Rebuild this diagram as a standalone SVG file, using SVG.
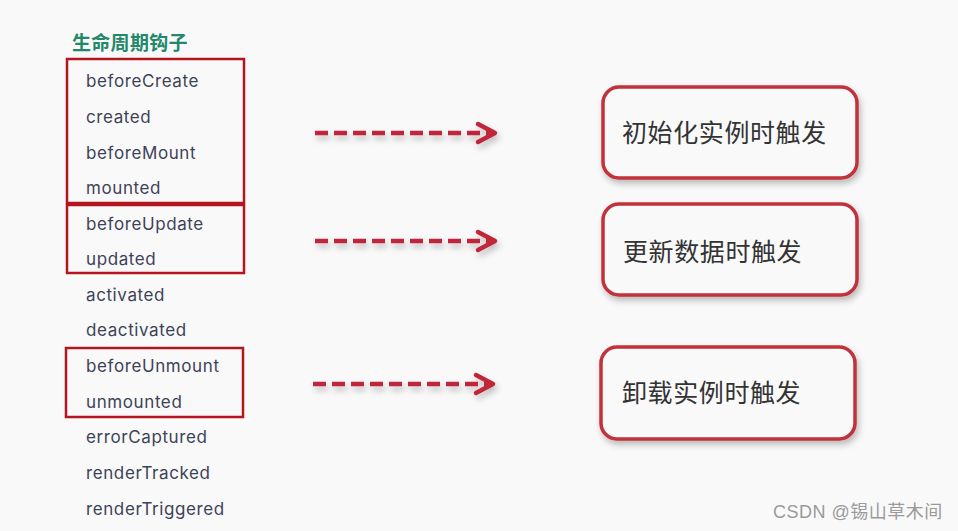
<svg xmlns="http://www.w3.org/2000/svg" width="958" height="531" viewBox="0 0 958 531">
<defs>
<style>
.title{font-family:"Noto Sans CJK SC",sans-serif;font-weight:bold;font-size:19px;letter-spacing:0.3px;fill:#23876a}
.hook{font-family:Inter,"Noto Sans",sans-serif;font-size:17px;letter-spacing:0.6px;fill:#3d4356}
.grp{fill:none;stroke:#b3161e;stroke-width:2.5}
.card{fill:#f9f9fa;stroke:#c1303a;stroke-width:3.5}
.label{font-family:"Noto Sans CJK SC",sans-serif;font-size:25px;letter-spacing:0.6px;fill:#333}
.dash{fill:none;stroke:#c0283a;stroke-width:4.5;stroke-dasharray:13 6}
.head{fill:none;stroke:#c0283a;stroke-width:4.5;stroke-linecap:round;stroke-linejoin:round}
.wm{font-family:"Liberation Sans","Noto Sans CJK SC",sans-serif;font-size:18px;letter-spacing:0.5px;fill:#9a9a9a}
</style>
<filter id="sh" x="-20%" y="-30%" width="140%" height="170%">
<feDropShadow dx="2" dy="4" stdDeviation="3" flood-color="#000" flood-opacity="0.25"/>
</filter>
</defs>
<rect width="958" height="531" fill="#f9f9fa"/>
<g id="hooks">
<text class="title" x="72" y="50">生命周期钩子</text>
<text class="hook" x="86" y="87">beforeCreate</text>
<text class="hook" x="86" y="123">created</text>
<text class="hook" x="86" y="159">beforeMount</text>
<text class="hook" x="86" y="194">mounted</text>
<text class="hook" x="86" y="230">beforeUpdate</text>
<text class="hook" x="86" y="265">updated</text>
<text class="hook" x="86" y="301">activated</text>
<text class="hook" x="86" y="336">deactivated</text>
<text class="hook" x="86" y="372">beforeUnmount</text>
<text class="hook" x="86" y="408">unmounted</text>
<text class="hook" x="86" y="443">errorCaptured</text>
<text class="hook" x="86" y="479">renderTracked</text>
<text class="hook" x="86" y="515">renderTriggered</text>
</g>
<g id="group-init"><rect class="grp" x="67" y="59" width="177" height="144"/></g>
<g id="group-update"><rect class="grp" x="67" y="205" width="177" height="68"/></g>
<g id="group-unmount"><rect class="grp" x="66" y="348" width="177" height="69"/></g>
<g id="connectors" filter="url(#sh)">
<path class="dash" d="M315 133H490"/>
<path class="head" d="M478 124L495 133L478 142"/>
<path class="dash" d="M315 241H490"/>
<path class="head" d="M478 232L495 241L478 250"/>
<path class="dash" d="M313 384H488"/>
<path class="head" d="M476 375L493 384L476 393"/>
</g>
<g id="card-init">
<rect class="card" x="603" y="87" width="254" height="91" rx="16" filter="url(#sh)"/>
<text class="label" x="622" y="142">初始化实例时触发</text>
</g>
<g id="card-update">
<rect class="card" x="603" y="204" width="254" height="91" rx="16" filter="url(#sh)"/>
<text class="label" x="623" y="261">更新数据时触发</text>
</g>
<g id="card-unmount">
<rect class="card" x="601" y="347" width="254" height="92" rx="16" filter="url(#sh)"/>
<text class="label" x="622" y="402">卸载实例时触发</text>
</g>
<text class="wm" x="773" y="518">CSDN @锡山草木间</text>
</svg>
